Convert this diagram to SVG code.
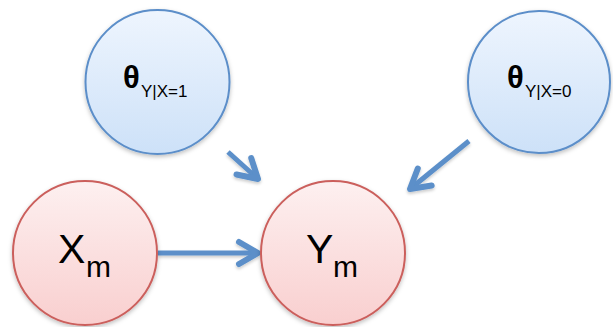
<svg xmlns="http://www.w3.org/2000/svg" width="613" height="327" viewBox="0 0 613 327">
  <defs>
    <linearGradient id="gBlue" x1="0" y1="0" x2="0" y2="1">
      <stop offset="0" stop-color="#eef5fe"/>
      <stop offset="1" stop-color="#cde1f8"/>
    </linearGradient>
    <linearGradient id="gRed" x1="0" y1="0" x2="0" y2="1">
      <stop offset="0" stop-color="#fdf0f0"/>
      <stop offset="1" stop-color="#f9cfcf"/>
    </linearGradient>
    <filter id="sh" x="-20%" y="-20%" width="140%" height="140%">
      <feDropShadow dx="0" dy="2" stdDeviation="2" flood-color="#000" flood-opacity="0.25"/>
    </filter>
    <filter id="shA" filterUnits="userSpaceOnUse" x="0" y="0" width="613" height="327">
      <feDropShadow dx="0" dy="2" stdDeviation="1.5" flood-color="#000" flood-opacity="0.2"/>
    </filter>
    <marker id="ah" markerUnits="userSpaceOnUse" viewBox="-26 -16 32 32" refX="0" refY="0" markerWidth="32" markerHeight="32" orient="auto">
      <path d="M -19 -11 L 0 0 L -19 11" fill="none" stroke="#5b8fc9" stroke-width="6" stroke-linecap="round" stroke-linejoin="round"/>
    </marker>
    <style>
      .blue { fill: url(#gBlue); stroke: #5b8ec9; stroke-width: 2; filter: url(#sh); }
      .red { fill: url(#gRed); stroke: #cb5f5c; stroke-width: 2; filter: url(#sh); }
      .t { font-family: "Liberation Sans", Arial, sans-serif; fill: #000; }
      .th { font-weight: bold; font-size: 31px; }
      .sub { font-size: 17px; }
      .big { font-size: 41px; }
      .m { font-size: 30px; }
      .arr { stroke: #5b8fc9; stroke-width: 5; fill: none; marker-end: url(#ah); }
    </style>
  </defs>
  <g id="connectors" filter="url(#shA)">
    <line class="arr" x1="228" y1="152" x2="258" y2="179"/>
    <line class="arr" x1="469" y1="141" x2="410" y2="189"/>
    <line class="arr" x1="158" y1="253" x2="258" y2="253"/>
  </g>
  <g id="theta1">
    <circle class="blue" cx="157.5" cy="82" r="72"/>
    <text class="t th" x="123" y="88">θ</text>
    <text class="t sub" x="141" y="97">Y|X=1</text>
  </g>
  <g id="theta0">
    <circle class="blue" cx="539" cy="82" r="71"/>
    <text class="t th" x="507" y="88">θ</text>
    <text class="t sub" x="525" y="97">Y|X=0</text>
  </g>
  <g id="Xm">
    <circle class="red" cx="85" cy="253" r="72"/>
    <text class="t big" x="58" y="263">X</text>
    <text class="t m" x="86" y="277">m</text>
  </g>
  <g id="Ym">
    <circle class="red" cx="333" cy="253" r="72"/>
    <text class="t big" x="306" y="263">Y</text>
    <text class="t m" x="333" y="277">m</text>
  </g>
</svg>
